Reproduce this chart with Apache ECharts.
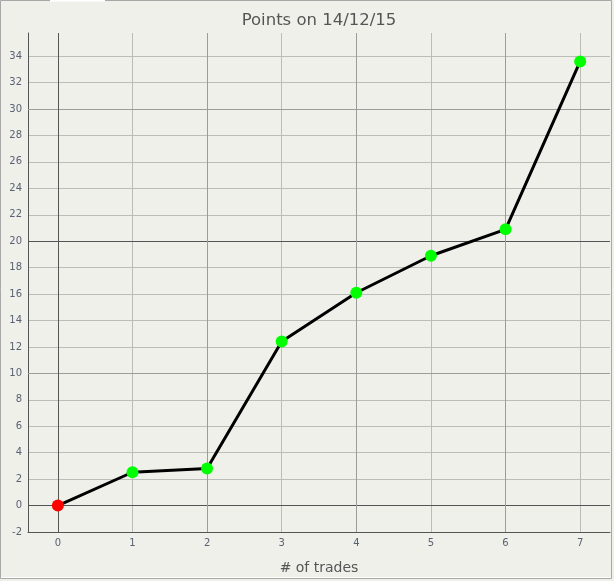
<!DOCTYPE html>
<html><head><meta charset="utf-8">
<script src="https://cdn.jsdelivr.net/npm/echarts@6/dist/echarts.min.js"></script>
<style>html,body{margin:0;padding:0;background:#f0f0eb;}#c{width:614px;height:581px;}</style>
</head><body><div id="c"></div>
<script>
const title = 'Points on 14/12/15';
const xName = '# of trades';
const trades = [0, 1, 2, 3, 4, 5, 6, 7];
const points = [0, 2.52, 2.8, 12.42, 16.1, 18.9, 20.9, 33.6];
const pointColors = ['#ff0000', '#00ff00', '#00ff00', '#00ff00', '#00ff00', '#00ff00', '#00ff00', '#00ff00'];
const yMajorDark = [0, 20];
const yMajorMid = [10, 30];
const xMajorDark = [0];
const xMajorMid = [2, 4, 6];

const chart = echarts.init(document.getElementById('c'), null, {renderer: 'canvas'});
const font = 'DejaVu Sans, Verdana, sans-serif';
const mlDark = {color: '#555555', width: 1, type: 'solid'};
const mlMid = {color: '#9c9c9a', width: 1, type: 'solid'};
const yMin = -2, yMax = 35.75;
const W = 614, gL = 28, gR = 4;
const plotW = W - gL - gR;
const xLo = -0.4, xHi = 7.4;
const pxU = plotW / (xHi - xLo);
const innerL = gL + (0 - xLo) * pxU;
const innerR = gR + (xHi - 7) * pxU;
const intFmt = v => Math.abs(v - Math.round(v)) < 1e-6 ? String(Math.round(v)) : '';
const gridBase = {top: 33, bottom: 49, containLabel: false, outerBoundsMode: 'none'};
chart.setOption({
  backgroundColor: '#f0f0eb',
  animation: false,
  title: {text: title, left: 314, textAlign: 'center', top: 7, textStyle: {fontFamily: font, fontSize: 16.5, fontWeight: 'normal', color: '#555555'}},
  grid: [
    Object.assign({left: gL, right: gR}, gridBase),
    Object.assign({left: innerL, right: innerR}, gridBase)
  ],
  xAxis: [
    {
      gridIndex: 0, type: 'value', min: xLo, max: xHi,
      name: xName, nameLocation: 'middle', nameGap: 29,
      nameTextStyle: {fontFamily: font, fontSize: 14, color: '#555555'},
      axisLine: {show: true, onZero: false, lineStyle: {color: '#555555'}},
      axisTick: {show: false}, axisLabel: {show: false}, splitLine: {show: false}
    },
    {
      gridIndex: 1, type: 'value', min: 0, max: 7, interval: 1,
      axisLine: {show: false}, axisTick: {show: false},
      axisLabel: {fontFamily: font, fontSize: 10, color: '#5a6272', margin: 6, formatter: intFmt},
      splitLine: {show: true, lineStyle: {color: '#bcbcb8'}}
    }
  ],
  yAxis: [
    {
      gridIndex: 0, type: 'value', min: yMin, max: yMax, interval: 2,
      axisLine: {show: true, onZero: false, lineStyle: {color: '#555555'}},
      axisTick: {show: false},
      axisLabel: {fontFamily: font, fontSize: 10, color: '#5a6272', margin: 6, formatter: intFmt},
      splitLine: {show: true, showMinLine: false, showMaxLine: false, lineStyle: {color: '#bcbcb8'}}
    },
    {
      gridIndex: 1, type: 'value', min: yMin, max: yMax, interval: 2,
      axisLine: {show: false}, axisTick: {show: false}, axisLabel: {show: false}, splitLine: {show: false}
    }
  ],
  graphic: [
    {type: 'rect', shape: {x: 0.5, y: 0.5, width: 611, height: 578}, style: {fill: 'none', stroke: '#a8a8a8', lineWidth: 1}, z: 100},
    {type: 'line', shape: {x1: 50, y1: 0.5, x2: 105, y2: 0.5}, style: {stroke: '#ffffff', lineWidth: 2}, z: 101},
    {type: 'line', shape: {x1: 1, y1: 577.5, x2: 611, y2: 577.5}, style: {stroke: '#ffffff', lineWidth: 1}, z: 101}
  ],
  series: [
    {
      type: 'line', xAxisIndex: 0, yAxisIndex: 0, data: [], silent: true, z: 1,
      markLine: {
        symbol: 'none', silent: true, label: {show: false}, animation: false,
        data: [
          ...yMajorDark.map(v => ({yAxis: v, lineStyle: mlDark})),
          ...yMajorMid.map(v => ({yAxis: v, lineStyle: mlMid})),
          ...xMajorDark.map(v => ({xAxis: v, lineStyle: mlDark})),
          ...xMajorMid.map(v => ({xAxis: v, lineStyle: mlMid}))
        ]
      }
    },
    {
      type: 'line', xAxisIndex: 1, yAxisIndex: 1, z: 5,
      data: trades.map((t, i) => ({value: [t, points[i]], itemStyle: {color: pointColors[i]}})),
      lineStyle: {color: '#000000', width: 3},
      symbol: 'circle', symbolSize: 12,
      itemStyle: {borderWidth: 0}
    }
  ]
});
</script></body></html>
